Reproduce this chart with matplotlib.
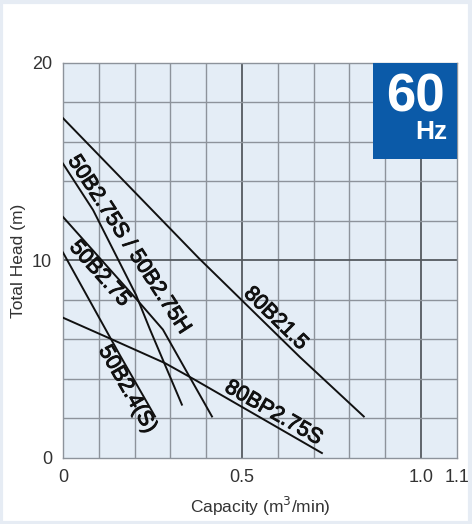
import matplotlib
matplotlib.use("Agg")
import matplotlib.pyplot as plt
import matplotlib.patheffects as pe
from matplotlib.patches import Rectangle
import numpy as np

plt.rcParams['font.family'] = ['Liberation Sans', 'DejaVu Sans']

# pump curves (capacity m3/min, head m)
q_80b215 = [0, 0.38, 0.662, 0.84]
h_80b215 = [17.2, 10.1, 5.1, 2.1]
q_50b275s = [0, 0.084, 0.204, 0.243, 0.332]
h_50b275s = [14.9, 12.55, 8.25, 6.5, 2.7]
q_50b275 = [0, 0.207, 0.279, 0.416]
h_50b275 = [12.2, 8.0, 6.5, 2.1]
q_50b24 = [0, 0.159, 0.257]
h_50b24 = [10.4, 5.2, 2.1]
q_80bp275s = [0, 0.137, 0.285, 0.369, 0.723]
h_80bp275s = [7.1, 6.0, 4.8, 3.95, 0.25]

curve_labels = ["80B21.5", "50B2.75S / 50B2.75H", "50B2.75", "50B2.4(S)", "80BP2.75S"]
# where along each curve the label sits, and on which side
label_q = [0.573, 0.15, 0.124, 0.205, 0.573]
label_side = ["bottom", "bottom", "top", "top", "bottom"]
x_ticks = [0, 0.5, 1.0, 1.1]
x_ticklabels = ["0", "0.5", "1.0", "1.1"]
y_ticks = [0, 10, 20]

fig = plt.figure(figsize=(4.72, 5.24), dpi=100)
fig.patch.set_facecolor("white")
# faint frame round the picture
fig.patches.append(Rectangle((0.002, 0.002), 0.994, 0.994, transform=fig.transFigure,
                             fill=False, edgecolor="#e6ecf4", lw=3))
ax = fig.add_axes([0.1335, 0.126, 0.8345, 0.754])
ax.set_facecolor("#e4edf6")
ax.set_xlim(0, 1.1)
ax.set_ylim(0, 20)

# grid: every 0.1 / 2 m, darker at 0.5, 1.0 and 10 m
for i in range(1, 11):
    xv = i / 10
    dark = i in (5, 10)
    ax.axvline(xv, color="#555a60" if dark else "#8d939b", lw=1.3 if dark else 1.0, zorder=1)
for i in range(1, 10):
    yv = i * 2
    dark = yv == 10
    ax.axhline(yv, color="#555a60" if dark else "#8d939b", lw=1.3 if dark else 1.0, zorder=1)
for s in ax.spines.values():
    s.set_color("#8d939b")
    s.set_linewidth(1.0)

ax.set_xticks(x_ticks)
ax.set_xticklabels(x_ticklabels)
ax.set_yticks(y_ticks)
ax.tick_params(length=0, labelsize=13, labelcolor="#333333", pad=8)

curves = [(q_80b215, h_80b215), (q_50b275s, h_50b275s), (q_50b275, h_50b275),
          (q_50b24, h_50b24), (q_80bp275s, h_80bp275s)]
for q, h in curves:
    ax.plot(q, h, color="#111111", lw=1.4, zorder=3)

label_fx = [pe.withStroke(linewidth=0.7, foreground="#111111")]

# labels lie along their curve
for i, (txt, (q, h), lq, side) in enumerate(zip(curve_labels, curves, label_q, label_side)):
    if i == 1:
        # the shared S/H label runs a bit flatter than its curve, clear of the 50B2.75 line
        ax.text(0.184, 10.8, txt, rotation=-57, rotation_mode="anchor", ha="center",
                va="center", fontsize=15.5, color="#111111", zorder=4, path_effects=label_fx)
        continue
    lh = np.interp(lq, q, h)
    p0 = ax.transData.transform((lq - 0.03, np.interp(lq - 0.03, q, h)))
    p1 = ax.transData.transform((lq + 0.03, np.interp(lq + 0.03, q, h)))
    ang = np.degrees(np.arctan2(p1[1] - p0[1], p1[0] - p0[0]))
    ax.text(lq, lh, txt, rotation=ang, rotation_mode="anchor", ha="center", va=side,
            fontsize=15.5, color="#111111", zorder=4, path_effects=label_fx)

ax.set_xlabel("Capacity (m$^3$/min)", fontsize=12.5, color="#333333", labelpad=6)
ax.set_ylabel("Total Head (m)", fontsize=12.5, color="#333333", labelpad=4)

# 60 Hz badge
ax.add_patch(Rectangle((0.787, 0.757), 0.213, 0.243, transform=ax.transAxes,
                       facecolor="#0b5aa8", edgecolor="none", zorder=5))
ax.text(0.970, 0.913, "60", transform=ax.transAxes, ha="right", va="center",
        fontsize=38, fontweight="bold", color="white", zorder=6)
ax.text(0.975, 0.825, "Hz", transform=ax.transAxes, ha="right", va="center",
        fontsize=19, fontweight="bold", color="white", zorder=6)

fig.savefig("out.png", dpi=100)
